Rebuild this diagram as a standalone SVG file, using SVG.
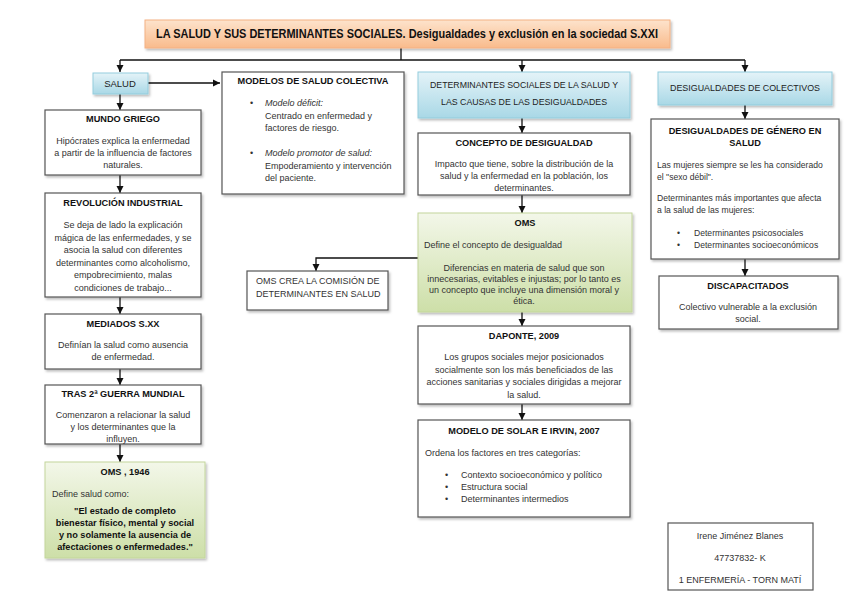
<svg xmlns="http://www.w3.org/2000/svg" width="848" height="599" viewBox="0 0 848 599">
<defs>
<linearGradient id="gOr" x1="0" y1="0" x2="0" y2="1"><stop offset="0" stop-color="#fde3cc"/><stop offset="1" stop-color="#f9bb8c"/></linearGradient>
<linearGradient id="gBl" x1="0" y1="0" x2="0" y2="1"><stop offset="0" stop-color="#e4f3f8"/><stop offset="1" stop-color="#a9d8e6"/></linearGradient>
<linearGradient id="gGr" x1="0" y1="0" x2="0" y2="1"><stop offset="0" stop-color="#f3f7e9"/><stop offset="1" stop-color="#cddfa8"/></linearGradient>
<filter id="sh" x="-5%" y="-5%" width="115%" height="125%"><feDropShadow dx="1.5" dy="2" stdDeviation="1.2" flood-color="#000" flood-opacity="0.25"/></filter>
<marker id="ar" markerWidth="8" markerHeight="8" refX="7" refY="4" orient="auto" markerUnits="userSpaceOnUse"><path d="M0,0.5 L7,4 L0,7.5 z" fill="#111"/></marker>
</defs>
<style>
.box{fill:#fff;stroke:#555;stroke-width:1.2}
.bl{fill:url(#gBl);stroke:#93cddd;stroke-width:1}
.gr{fill:url(#gGr);stroke:#c3d69b;stroke-width:1}
.or{fill:url(#gOr);stroke:#f4b183;stroke-width:1}
text{font-family:"Liberation Sans",Arial,sans-serif;fill:#333;font-size:9px}
.t{font-weight:bold;fill:#111;font-size:9.2px}
.c{text-anchor:middle}
.b{font-weight:bold;fill:#111;font-size:9.2px}
.cal{fill:#222;font-size:9.5px}
.i{font-style:italic}
.s{font-size:8.6px}
.ln{fill:none;stroke:#111;stroke-width:1.3}
</style>

<g id="connectors">
<path class="ln" d="M401,48 V60"/>
<path class="ln" d="M120,60 H745"/>
<path class="ln" d="M120,60 V72" marker-end="url(#ar)"/>
<path class="ln" d="M522,60 V72" marker-end="url(#ar)"/>
<path class="ln" d="M745,60 V72" marker-end="url(#ar)"/>
<path class="ln" d="M148,83 H220" marker-end="url(#ar)"/>
<path class="ln" d="M120,94 V110" marker-end="url(#ar)"/>
<path class="ln" d="M120,175 V193" marker-end="url(#ar)"/>
<path class="ln" d="M120,297 V314" marker-end="url(#ar)"/>
<path class="ln" d="M120,369 V385" marker-end="url(#ar)"/>
<path class="ln" d="M120,444 V462" marker-end="url(#ar)"/>
<path class="ln" d="M522,118 V133" marker-end="url(#ar)"/>
<path class="ln" d="M522,195 V213" marker-end="url(#ar)"/>
<path class="ln" d="M418,258 H316 V271" marker-end="url(#ar)"/>
<path class="ln" d="M522,312 V326" marker-end="url(#ar)"/>
<path class="ln" d="M522,404 V420" marker-end="url(#ar)"/>
<path class="ln" d="M745,105 V119" marker-end="url(#ar)"/>
<path class="ln" d="M745,259 V276" marker-end="url(#ar)"/>
</g>

<g id="title">
<rect class="or" x="145" y="20" width="525" height="28" filter="url(#sh)"/>
<text class="t c" x="407" y="37.5" style="font-size:12px" textLength="502" lengthAdjust="spacingAndGlyphs">LA SALUD Y SUS DETERMINANTES SOCIALES. Desigualdades y exclusión en la sociedad S.XXI</text>
</g>

<g id="salud">
<rect class="bl" x="93" y="73" width="55" height="21" filter="url(#sh)"/>
<text class="cal c" x="120" y="87">SALUD</text>
</g>

<g id="mundo-griego">
<rect class="box" x="45" y="110" width="156" height="65" filter="url(#sh)"/>
<text class="t c" x="123" y="122">MUNDO GRIEGO</text>
<text class="c" x="123" y="144">Hipócrates explica la enfermedad</text>
<text class="c" x="123" y="156">a partir de la influencia de factores</text>
<text class="c" x="123" y="168">naturales.</text>
</g>

<g id="revolucion">
<rect class="box" x="45" y="193" width="156" height="104" filter="url(#sh)"/>
<text class="t c" x="123" y="206">REVOLUCIÓN INDUSTRIAL</text>
<text class="c" x="123" y="228">Se deja de lado la explicación</text>
<text class="c" x="123" y="240.5">mágica de las enfermedades, y se</text>
<text class="c" x="123" y="253">asocia la salud con diferentes</text>
<text class="c" x="123" y="265.5">determinantes como alcoholismo,</text>
<text class="c" x="123" y="278">empobrecimiento, malas</text>
<text class="c" x="123" y="290.5">condiciones de trabajo...</text>
</g>

<g id="mediados">
<rect class="box" x="45" y="314" width="156" height="55" filter="url(#sh)"/>
<text class="t c" x="123" y="327">MEDIADOS S.XX</text>
<text class="c" x="123" y="348">Definían la salud como  ausencia</text>
<text class="c" x="123" y="360">de enfermedad.</text>
</g>

<g id="tras-guerra">
<rect class="box" x="45" y="385" width="156" height="59" filter="url(#sh)"/>
<text class="t c" x="123" y="397">TRAS 2ª GUERRA MUNDIAL</text>
<text class="c" x="123" y="418">Comenzaron a relacionar la salud</text>
<text class="c" x="123" y="430">y los determinantes que la</text>
<text class="c" x="123" y="442">influyen.</text>
</g>

<g id="oms-1946">
<rect class="gr" x="45" y="462" width="160" height="96" filter="url(#sh)"/>
<text class="t c" x="125" y="475">OMS , 1946</text>
<text x="52" y="497">Define salud como:</text>
<text class="b c" x="125" y="514">"El estado de completo</text>
<text class="b c" x="125" y="526">bienestar físico, mental y social</text>
<text class="b c" x="125" y="538">y no solamente la ausencia de</text>
<text class="b c" x="125" y="550">afectaciones o enfermedades."</text>
</g>

<g id="modelos">
<rect class="box" x="222" y="72" width="182" height="122" filter="url(#sh)"/>
<text class="t c" x="313" y="84">MODELOS DE SALUD COLECTIVA</text>
<text x="250" y="106">•</text>
<text class="i" x="265" y="106">Modelo déficit:</text>
<text x="265" y="118.5">Centrado en enfermedad y</text>
<text x="265" y="131">factores de riesgo.</text>
<text x="250" y="156">•</text>
<text class="i" x="265" y="156">Modelo promotor de salud:</text>
<text x="265" y="168.5">Empoderamiento y intervención</text>
<text x="265" y="181">del paciente.</text>
</g>

<g id="determinantes">
<rect class="bl" x="418" y="72" width="212" height="46" filter="url(#sh)"/>
<text class="cal c" x="524" y="88" textLength="188" lengthAdjust="spacingAndGlyphs">DETERMINANTES SOCIALES DE LA SALUD Y</text>
<text class="cal c" x="524" y="105" textLength="166" lengthAdjust="spacingAndGlyphs">LAS CAUSAS DE LAS DESIGUALDADES</text>
</g>

<g id="concepto">
<rect class="box" x="418" y="133" width="212" height="62" filter="url(#sh)"/>
<text class="t c" x="524" y="146">CONCEPTO DE DESIGUALDAD</text>
<text class="c" x="524" y="167">Impacto que tiene, sobre la distribución de la</text>
<text class="c" x="524" y="179">salud y la enfermedad en la población, los</text>
<text class="c" x="524" y="191">determinantes.</text>
</g>

<g id="oms">
<rect class="gr" x="418" y="213" width="214" height="99" filter="url(#sh)"/>
<text class="t c" x="525" y="226">OMS</text>
<text x="424" y="248">Define el concepto de desigualdad</text>
<text class="c" x="524" y="271">Diferencias en materia de salud que son</text>
<text class="c" x="524" y="282">innecesarias, evitables e injustas; por lo tanto es</text>
<text class="c" x="524" y="293">un concepto que incluye una dimensión moral y</text>
<text class="c" x="524" y="304">ética.</text>
</g>

<g id="oms-crea">
<rect class="box" x="247" y="271" width="141" height="39" filter="url(#sh)"/>
<text x="256" y="284" style="font-size:9px">OMS CREA LA COMISIÓN DE</text>
<text x="256" y="297" style="font-size:9px">DETERMINANTES EN SALUD</text>
</g>

<g id="daponte">
<rect class="box" x="418" y="326" width="212" height="78" filter="url(#sh)"/>
<text class="t c" x="524" y="339">DAPONTE, 2009</text>
<text class="c" x="524" y="360">Los grupos sociales mejor posicionados</text>
<text class="c" x="524" y="372.5">socialmente son los más beneficiados de las</text>
<text class="c" x="524" y="385">acciones sanitarias y sociales dirigidas a mejorar</text>
<text class="c" x="524" y="397.5">la salud.</text>
</g>

<g id="solar-irvin">
<rect class="box" x="418" y="420" width="212" height="97" filter="url(#sh)"/>
<text class="t c" x="524" y="434">MODELO DE SOLAR E IRVIN, 2007</text>
<text x="425" y="456">Ordena los factores en tres categorías:</text>
<text x="445" y="478">•</text>
<text x="461" y="478">Contexto socioeconómico y político</text>
<text x="445" y="490">•</text>
<text x="461" y="490">Estructura social</text>
<text x="445" y="502">•</text>
<text x="461" y="502">Determinantes intermedios</text>
</g>

<g id="colectivos">
<rect class="bl" x="658" y="72" width="174" height="33" filter="url(#sh)"/>
<text class="cal c" x="745" y="91" textLength="150" lengthAdjust="spacingAndGlyphs">DESIGUALDADES DE COLECTIVOS</text>
</g>

<g id="genero">
<rect class="box" x="651" y="119" width="188" height="140" filter="url(#sh)"/>
<text class="t c" x="745" y="134">DESIGUALDADES DE GÉNERO EN</text>
<text class="t c" x="745" y="146">SALUD</text>
<text class="s" x="657" y="168">Las mujeres siempre se les ha considerado</text>
<text class="s" x="657" y="180">el "sexo débil".</text>
<text class="s" x="657" y="201">Determinantes más importantes que afecta</text>
<text class="s" x="657" y="213">a la salud de las mujeres:</text>
<text class="s" x="677" y="236">•</text>
<text class="s" x="694" y="236">Determinantes psicosociales</text>
<text class="s" x="677" y="248">•</text>
<text class="s" x="694" y="248">Determinantes socioeconómicos</text>
</g>

<g id="discapacitados">
<rect class="box" x="659" y="276" width="179" height="53" filter="url(#sh)"/>
<text class="t c" x="748" y="289">DISCAPACITADOS</text>
<text class="c" x="748" y="310">Colectivo vulnerable a la exclusión</text>
<text class="c" x="748" y="322">social.</text>
</g>

<g id="autor">
<rect class="box" x="668" y="523" width="145" height="67"/>
<text class="c" x="740" y="539">Irene Jiménez Blanes</text>
<text class="c" x="740" y="561">47737832- K</text>
<text class="c" x="740" y="583">1 ENFERMERÍA - TORN MATÍ</text>
</g>
</svg>
